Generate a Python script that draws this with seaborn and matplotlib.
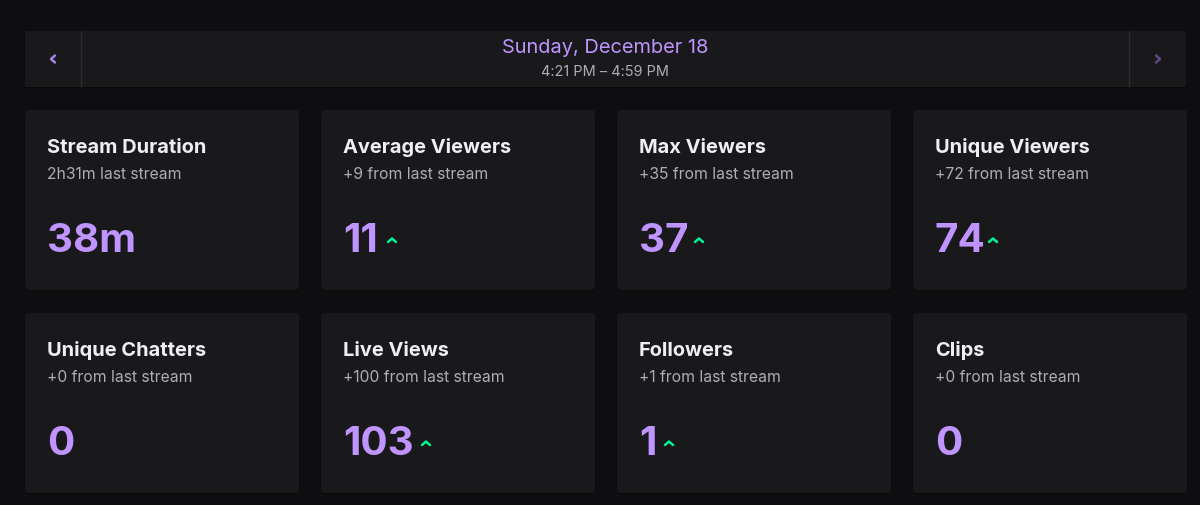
import matplotlib.pyplot as plt
from matplotlib.patches import FancyBboxPatch, Rectangle
import seaborn as sns

# data
date_label = "Sunday, December 18"
time_label = "4:21 PM – 4:59 PM"
titles = ["Stream Duration", "Average Viewers", "Max Viewers", "Unique Viewers",
          "Unique Chatters", "Live Views", "Followers", "Clips"]
subtitles = ["2h31m last stream", "+9 from last stream", "+35 from last stream", "+72 from last stream",
             "+0 from last stream", "+100 from last stream", "+1 from last stream", "+0 from last stream"]
values = ["38m", "11", "37", "74", "0", "103", "1", "0"]
is_up = [False, True, True, True, False, True, True, False]

bg = "#0e0e10"
card = "#19191b"
shadow = "#09090a"
purple = "#bf94ff"
green = "#00f593"

sns.set_theme(style="dark")
plt.rcParams["font.family"] = ["Inter", "DejaVu Sans"]

fig = plt.figure(figsize=(12, 5.06), dpi=100, facecolor=bg)
ax = fig.add_axes([0, 0, 1, 1])
ax.set_xlim(0, 1200)
ax.set_ylim(505, -1)
ax.axis("off")

# header bar
ax.add_patch(Rectangle((25, 31), 1161, 57, fc=shadow, ec="none"))
ax.add_patch(Rectangle((25, 31), 1161, 56, fc=card, ec="none"))
ax.plot([81, 81], [31, 87], color="#2a2a2d", lw=1)
ax.plot([1129, 1129], [31, 87], color="#2a2a2d", lw=1)
ax.plot([55, 51, 55], [55.5, 59, 62.5], color="#a97fe8", lw=1.8)
ax.plot([1156, 1160, 1156], [55.5, 59, 62.5], color="#5f4888", lw=1.8)
ax.text(605, 47, date_label, color=purple, fontsize=14.4, ha="center", va="center")
ax.text(605, 71, time_label, color="#adadb8", fontsize=10.45, ha="center", va="center")

# cards
card_x = [25, 321, 617, 913]
card_y = [110, 313]
card_h = 180
arrow_dx = [0, 71, 82, 80, 0, 105, 52, 0]
for i, title in enumerate(titles):
    row, col = divmod(i, 4)
    x = card_x[col]
    y = card_y[row]
    ax.add_patch(FancyBboxPatch((x + 3, y + 4), 268, card_h - 6,
                                boxstyle="round,pad=3,rounding_size=4", fc=shadow, ec="none"))
    ax.add_patch(FancyBboxPatch((x + 3, y + 3), 268, card_h - 6,
                                boxstyle="round,pad=3,rounding_size=4", fc=card, ec="none"))
    ax.text(x + 22, y + 42, title, color="#efeff1", fontsize=14.4, fontweight="bold", va="baseline")
    ax.text(x + 22, y + 68, subtitles[i], color="#adadb8", fontsize=11.3, va="baseline")
    ax.text(x + 22, y + 141.5, values[i], color=purple, fontsize=29, fontweight="bold", va="baseline")
    if is_up[i]:
        cx = x + arrow_dx[i]
        ax.plot([cx - 4, cx, cx + 4], [y + 132, y + 128.5, y + 132], color=green, lw=1.8)

fig.savefig("out.png", dpi=100, facecolor=bg)
